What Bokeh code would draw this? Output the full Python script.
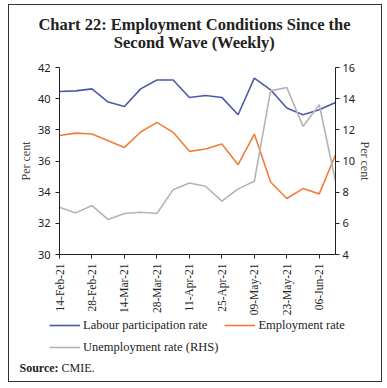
import math
from bokeh.plotting import figure
from bokeh.models import (Range1d, LinearAxis, FixedTicker, Legend, LegendItem, Label)
from bokeh.embed import file_html
from bokeh.resources import INLINE

dates = ["14-Feb-21", "21-Feb-21", "28-Feb-21", "07-Mar-21", "14-Mar-21", "21-Mar-21",
         "28-Mar-21", "04-Apr-21", "11-Apr-21", "18-Apr-21", "25-Apr-21", "02-May-21",
         "09-May-21", "16-May-21", "23-May-21", "30-May-21", "06-Jun-21", "13-Jun-21"]
labour_participation = [40.46, 40.50, 40.63, 39.78, 39.50, 40.63, 41.20, 41.20, 40.08,
                        40.20, 40.08, 38.97, 41.32, 40.57, 39.40, 38.97, 39.29, 39.76]
employment_rate = [37.64, 37.79, 37.73, 37.30, 36.87, 37.86, 38.48, 37.84, 36.62,
                   36.77, 37.09, 35.76, 37.73, 34.65, 33.59, 34.23, 33.89, 36.40]
unemployment_rate = [7.03, 6.67, 7.14, 6.24, 6.63, 6.71, 6.63, 8.16, 8.59,
                     8.38, 7.42, 8.21, 8.70, 14.50, 14.72, 12.22, 13.61, 8.70]
left_ticks = [30, 32, 34, 36, 38, 40, 42]
right_ticks = [4, 6, 8, 10, 12, 14, 16]

idx = list(range(len(dates)))
n = len(dates) - 1

# layout (pixels): canvas 372x376, plot area left=50, right=326, top=62, bottom=249
W, H = 372, 376
PL, PR, PT, PB = 50, 326, 62, 249
xs = (PR - PL) / n
ys = (PB - PT) / (left_ticks[-1] - left_ticks[0])
x_start = 0 - PL / xs
x_end = n + (W - PR) / xs
lo_ext = (H - PB) / ys
hi_ext = PT / ys

SERIF = "Liberation Serif"
SANS = "Noto Sans"
AX = "#222222"

p = figure(frame_width=W, frame_height=H, output_backend="svg", toolbar_location=None,
           x_range=Range1d(x_start, x_end),
           y_range=Range1d(left_ticks[0] - lo_ext, left_ticks[-1] + hi_ext),
           min_border=0, min_border_left=0, min_border_right=0,
           min_border_top=0, min_border_bottom=0)
p.extra_y_ranges = {"rhs": Range1d(right_ticks[0] - lo_ext, right_ticks[-1] + hi_ext)}
p.outline_line_color = None
p.xgrid.visible = False
p.ygrid.visible = False
p.styles = {"border": "1px solid #333333", "position": "relative", "left": "8px", "top": "4px"}

r1 = p.line(idx, labour_participation, line_color="#4a5aa8", line_width=1.6)
r2 = p.line(idx, employment_rate, line_color="#f07e3a", line_width=1.6)
r3 = p.line(idx, unemployment_rate, line_color="#b4b4b4", line_width=1.6, y_range_name="rhs")

# bottom axis
xa = p.xaxis[0]
xa.fixed_location = left_ticks[0]
xa.bounds = (0, n)
xa.ticker = FixedTicker(ticks=idx[::2])
xa.major_label_overrides = {i: dates[i] for i in idx[::2]}
xa.major_label_orientation = math.pi / 2
xa.major_label_text_font = SERIF
xa.major_label_text_font_size = "11.5px"
xa.major_label_text_color = AX
xa.minor_tick_line_color = None
xa.major_tick_in = 0
xa.major_tick_out = 4
xa.axis_line_color = AX
xa.major_tick_line_color = AX

ya = p.yaxis[0]
ya.fixed_location = 0
ya.bounds = (left_ticks[0], left_ticks[-1])
ya.ticker = FixedTicker(ticks=left_ticks)
ya.axis_label = "Per cent"
ya.axis_label_text_font = SERIF
ya.axis_label_text_font_style = "normal"
ya.axis_label_text_font_size = "12px"
ya.major_label_text_font = SANS
ya.major_label_text_font_size = "11px"
ya.major_label_text_color = AX
ya.minor_tick_line_color = None
ya.major_tick_in = 0
ya.major_tick_out = 4
ya.axis_line_color = AX
ya.major_tick_line_color = AX
ya.axis_label_standoff = 2

yr = LinearAxis(y_range_name="rhs", ticker=FixedTicker(ticks=right_ticks))
yr.fixed_location = n
yr.bounds = (right_ticks[0], right_ticks[-1])
yr.axis_label = "Per cent"
yr.axis_label_text_font = SERIF
yr.axis_label_text_font_style = "normal"
yr.axis_label_text_font_size = "12px"
yr.major_label_text_font = SANS
yr.major_label_text_font_size = "11px"
yr.major_label_text_color = AX
yr.minor_tick_line_color = None
yr.major_tick_in = 0
yr.major_tick_out = 4
yr.axis_line_color = AX
yr.major_tick_line_color = AX
yr.major_label_standoff = 3
yr.axis_label_standoff = 0
p.add_layout(yr, "right")

legend = Legend(items=[LegendItem(label="Labour participation rate", renderers=[r1]),
                       LegendItem(label="Unemployment rate (RHS)", renderers=[r3]),
                       LegendItem(label="Employment rate", renderers=[r2])],
                ncols=2, location=(40, 26))
legend.label_text_font = SERIF
legend.label_text_font_size = "12.5px"
legend.label_text_color = "#222222"
legend.glyph_width = 31
legend.glyph_height = 16
legend.label_standoff = 3
legend.spacing = 6
legend.padding = 0
legend.margin = 0
legend.border_line_color = None
legend.background_fill_alpha = 0
legend.label_height = 16
p.add_layout(legend, "center")

src1 = Label(x=10, y=14, x_units="screen", y_units="screen", text="Source:",
             text_font=SERIF, text_font_style="bold", text_font_size="12px",
             text_baseline="middle", text_color="#222222")
src2 = Label(x=52, y=14, x_units="screen", y_units="screen", text="CMIE.",
             text_font=SERIF, text_font_size="12px", text_baseline="middle",
             text_color="#222222")
t1 = Label(x=185, y=357, x_units="screen", y_units="screen",
           text="Chart 22: Employment Conditions Since the",
           text_font=SERIF, text_font_style="bold", text_font_size="16.5px",
           text_align="center", text_baseline="middle", text_color="#222222")
t2 = Label(x=185, y=339, x_units="screen", y_units="screen",
           text="Second Wave (Weekly)",
           text_font=SERIF, text_font_style="bold", text_font_size="16.5px",
           text_align="center", text_baseline="middle", text_color="#222222")
for lab in (src1, src2, t1, t2):
    p.add_layout(lab)

open("out.html", "w").write(file_html(p, INLINE))
